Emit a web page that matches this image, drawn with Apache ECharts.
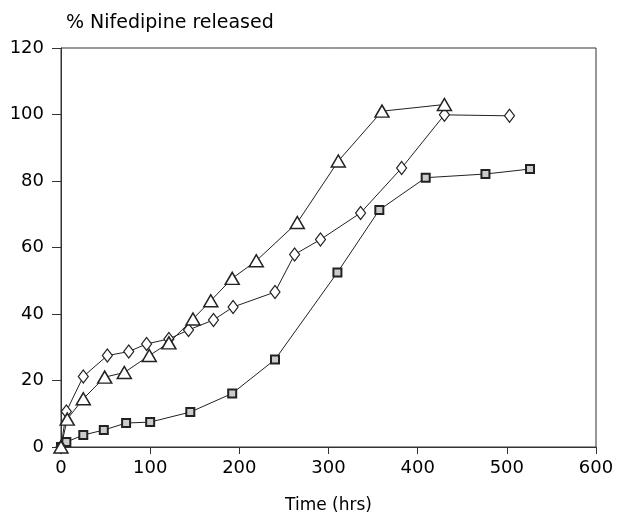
<!DOCTYPE html>
<html><head><meta charset="utf-8">
<script src="https://cdn.jsdelivr.net/npm/echarts@6/dist/echarts.min.js"></script>
<style>html,body{margin:0;padding:0;background:#fff}#c{width:619px;height:523px}</style>
</head><body><div id="c"></div>
<script>
const triX = [0, 7, 25, 49, 71, 99, 121, 148, 168, 192, 219, 265, 311, 360, 430];
const triY = [0, 8.4, 14.5, 21, 22.4, 27.5, 31.3, 38.5, 44, 50.7, 56, 67.5, 86, 101, 103];
const diaX = [0, 6, 25, 52, 76, 96, 121, 143, 171, 193, 240, 262, 291, 336, 382, 430, 503];
const diaY = [0, 10.7, 21.2, 27.5, 28.7, 31, 32.5, 35.2, 38.2, 42.1, 46.6, 57.9, 62.4, 70.4, 83.9, 99.9, 99.6];
const sqX = [0, 6, 25, 48, 73, 100, 145, 192, 240, 310, 357, 409, 476, 526];
const sqY = [0, 1.5, 3.6, 5.1, 7.2, 7.5, 10.5, 16.1, 26.3, 52.5, 71.3, 81, 82.1, 83.6];
const xTicks = [0, 100, 200, 300, 400, 500, 600];
const yTicks = [0, 20, 40, 60, 80, 100, 120];

const pair = (xs, ys) => xs.map((x, i) => [x, ys[i]]);
const font = "'DejaVu Sans', 'Liberation Sans', Arial, sans-serif";
const lineCol = '#222';
const chart = echarts.init(document.getElementById('c'));
chart.setOption({
  animation: false,
  backgroundColor: '#fff',
  title: {
    text: '% Nifedipine released', left: 61, top: 9,
    textStyle: { fontFamily: font, fontSize: 19, fontWeight: 'normal', color: '#000' }
  },
  grid: { left: 61, right: 23, top: 48, bottom: 76, show: true, borderColor: '#333', borderWidth: 1 },
  xAxis: {
    type: 'value', min: xTicks[0], max: xTicks[xTicks.length - 1], interval: 100,
    name: 'Time (hrs)', nameLocation: 'middle', nameGap: 50,
    nameTextStyle: { fontFamily: font, fontSize: 17, color: '#000' },
    axisLine: { show: true, lineStyle: { color: '#333', width: 1 } },
    axisTick: { show: true, length: 7, inside: false, lineStyle: { color: '#333' } },
    axisLabel: { fontFamily: font, fontSize: 18, color: '#000', margin: 12 },
    splitLine: { show: false }
  },
  yAxis: {
    type: 'value', min: yTicks[0], max: yTicks[yTicks.length - 1], interval: 20,
    axisLine: { show: true, lineStyle: { color: '#333', width: 1 } },
    axisTick: { show: true, length: 9, inside: false, lineStyle: { color: '#333' } },
    axisLabel: { fontFamily: font, fontSize: 18, color: '#000', margin: 17 },
    splitLine: { show: false }
  },
  series: [
    {
      type: 'line', data: pair(sqX, sqY), symbol: 'rect', symbolSize: 8,
      lineStyle: { color: lineCol, width: 1 },
      itemStyle: { color: '#ccc', borderColor: lineCol, borderWidth: 2 }, z: 3
    },
    {
      type: 'line', data: pair(diaX, diaY), symbol: 'diamond', symbolSize: [10, 13],
      lineStyle: { color: lineCol, width: 1 },
      itemStyle: { color: '#fff', borderColor: lineCol, borderWidth: 1.2 }, z: 4
    },
    {
      type: 'line', data: pair(triX, triY), symbol: 'triangle', symbolSize: [14, 12],
      lineStyle: { color: lineCol, width: 1 },
      itemStyle: { color: '#fff', borderColor: lineCol, borderWidth: 1.5 }, z: 5
    }
  ]
});
</script></body></html>
